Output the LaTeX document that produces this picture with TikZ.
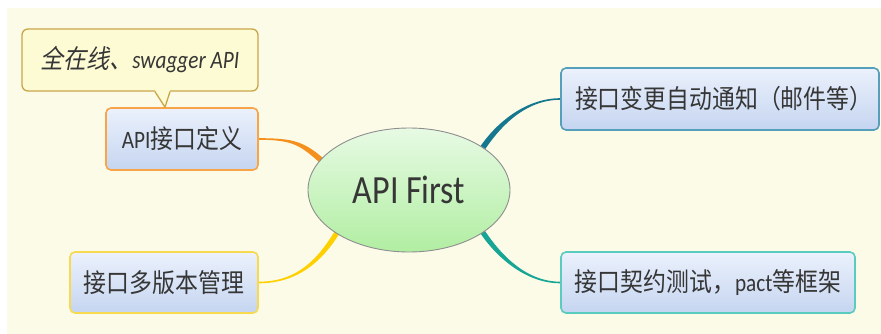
\documentclass[tikz,border=0pt]{standalone}
\usepackage{fontspec}
\setmainfont[FakeStretch=0.85]{Carlito}
\newfontfamily\cjk[FakeStretch=0.88]{Noto Sans CJK SC}
\newfontfamily\cjkit[FakeStretch=0.88,FakeSlant=0.2]{Noto Sans CJK SC}
\usetikzlibrary{shapes.geometric,calc}
\pgfdeclarelayer{bg}
\pgfdeclarelayer{links}
\pgfsetlayers{bg,links,main}

\definecolor{paper}{HTML}{FCFBE8}
\definecolor{noteFill}{HTML}{FDFBD4}
\definecolor{noteBorder}{HTML}{C9A64A}
\definecolor{boxTop}{HTML}{EBF1FC}
\definecolor{boxBottom}{HTML}{C5D5F0}
\definecolor{borderOrange}{HTML}{F8A448}
\definecolor{borderYellow}{HTML}{F8DA50}
\definecolor{borderBlue}{HTML}{559FBA}
\definecolor{borderTeal}{HTML}{5ACCBF}
\definecolor{linkOrange}{HTML}{F5901E}
\definecolor{linkYellow}{HTML}{FFD000}
\definecolor{linkBlue}{HTML}{16788E}
\definecolor{linkTeal}{HTML}{17A595}
\definecolor{rootTop}{HTML}{E7FAE4}
\definecolor{rootBottom}{HTML}{B1EEA2}
\definecolor{rootBorder}{HTML}{8E8E8E}
\definecolor{ink}{HTML}{363636}

% Chinese runs inside Latin text
\newcommand\zh[1]{{\fontsize{26}{30}\selectfont\cjk #1}}
\newcommand\zhit[1]{{\fontsize{26}{30}\selectfont\cjkit #1}}

% tapered branch: thin at the topic box, wide at the central topic
% #1 colour, #2 start, #3 first control, #4 second control, #5 end, #6 end half-width
\newcommand\branch[6]{%
  \coordinate (bAL) at ($(#2)!0.8pt!90:(#3)$);
  \coordinate (bAR) at ($(#2)!0.8pt!-90:(#3)$);
  \coordinate (bBL) at ($(#5)!#6!-90:(#4)$);
  \coordinate (bBR) at ($(#5)!#6!90:(#4)$);
  \fill[#1] (bAL) .. controls ($(#3)+(bAL)-(#2)$) and ($(#4)+(bBL)-(#5)$) .. (bBL)
    -- (bBR) .. controls ($(#4)+(bBR)-(#5)$) and ($(#3)+(bAR)-(#2)$) .. (bAR) -- cycle;
}

\tikzset{
  topic/.style={rectangle, rounded corners=5pt, line width=1.6pt,
    top color=boxTop, bottom color=boxBottom, text=ink, inner sep=0pt,
    font=\fontsize{25}{29}\selectfont},
  central/.style={ellipse, minimum width=202pt, minimum height=124pt, inner sep=0pt,
    top color=rootTop, bottom color=rootBottom, draw=rootBorder, line width=0.9pt,
    text=ink, font=\fontsize{40}{44}\selectfont},
  note/.style={rectangle, rounded corners=6pt, line width=1.3pt, fill=noteFill,
    draw=noteBorder, text=ink, inner sep=0pt,
    font=\fontsize{25}{29}\selectfont\itshape}
}

\begin{document}
\begin{tikzpicture}[x=1pt, y=-1pt]
\useasboundingbox (0,0) rectangle (881,334);
\begin{pgfonlayer}{bg}
  \fill[white] (0,0) rectangle (881,334);
  \fill[paper] (7,8) rectangle (881,334);
\end{pgfonlayer}

% central topic and its four subtopics
\node[central] (root) at (409,190) {API First};
\node[topic, draw=borderOrange, minimum width=152pt, minimum height=62pt]
  (def) at (182,139) {API\zh{接口定义}};
\node[topic, draw=borderYellow, minimum width=188pt, minimum height=61pt]
  (ver) at (164,282.5) {\zh{接口多版本管理}};
\node[topic, draw=borderBlue, inner xsep=14pt, text width=290pt, align=left,
  minimum height=62pt] (notify) at (720,99) {\zh{接口变更自动通知（邮件等）}};
\node[topic, draw=borderTeal, minimum width=294pt, minimum height=61pt]
  (test) at (708,282.5) {\zh{接口契约测试，}pact\zh{等框架}};

% callout attached to the first subtopic
\node[note, minimum width=236pt, minimum height=62pt] (memo) at (140,60)
  {\zhit{全在线、}swagger API};
\coordinate (tip) at ($(def.north)+(-17,0)$);
\coordinate (pL) at ($(memo.south)+(15,0)$);
\coordinate (pR) at ($(memo.south)+(30,0)$);
\fill[noteFill] ($(pL)+(0,-1.5)$) -- (tip) -- ($(pR)+(0,-1.5)$) -- cycle;
\draw[noteBorder, line width=1.3pt, line join=round] (pL) -- (tip) -- (pR);

% branches
\begin{pgfonlayer}{links}
  \coordinate (o1) at ($(def.east)+(35,0)$);
  \coordinate (o2) at ($(root.161)+(-18,-16)$);
  \coordinate (oE) at ($(root.161)!-5pt!(o2)$);
  \branch{linkOrange}{def.east}{o1}{o2}{oE}{2.8pt}

  \coordinate (y1) at ($(ver.east)+(40,0)$);
  \coordinate (y2) at ($(root.211)+(-15,25)$);
  \coordinate (yE) at ($(root.211)!-5pt!(y2)$);
  \branch{linkYellow}{ver.east}{y1}{y2}{yE}{2.6pt}

  \coordinate (n1) at ($(notify.west)+(-35,0)$);
  \coordinate (n2) at ($(root.30)+(14,-22)$);
  \coordinate (nE) at ($(root.30)!-5pt!(n2)$);
  \branch{linkBlue}{notify.west}{n1}{n2}{nE}{2.8pt}

  \coordinate (t1) at ($(test.west)+(-35,0)$);
  \coordinate (t2) at ($(root.330)+(14,22)$);
  \coordinate (tE) at ($(root.330)!-5pt!(t2)$);
  \branch{linkTeal}{test.west}{t1}{t2}{tE}{2.6pt}
\end{pgfonlayer}
\end{tikzpicture}
\end{document}
